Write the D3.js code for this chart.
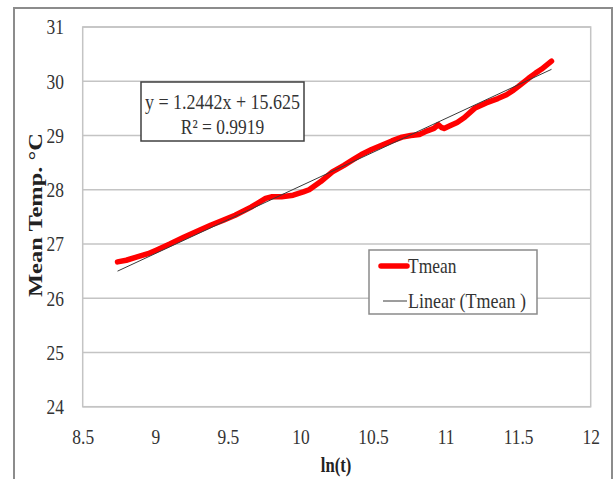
<!DOCTYPE html>
<html><head><meta charset="utf-8">
<script src="https://cdn.jsdelivr.net/npm/d3@7"></script>
<style>
body{margin:0;background:#fff;}
svg{display:block;font-family:"Liberation Serif","Times New Roman",serif;}
</style></head>
<body><svg id="c" width="614" height="479"></svg>
<script>
// ---- data ----
const lnT = [8.74, 8.8, 8.875, 8.95, 9.01, 9.1, 9.2, 9.3, 9.385, 9.47, 9.55, 9.66, 9.76, 9.8, 9.87, 9.95, 10.02, 10.06, 10.14, 10.22, 10.3, 10.36, 10.42, 10.49, 10.56, 10.63, 10.7, 10.76, 10.82, 10.86, 10.92, 10.95, 10.97, 10.99, 11.03, 11.08, 11.13, 11.2, 11.28, 11.36, 11.42, 11.46, 11.5, 11.57, 11.62, 11.66, 11.73];
const tmean = [26.67, 26.7, 26.76, 26.82, 26.89, 27.0, 27.13, 27.25, 27.35, 27.44, 27.53, 27.68, 27.84, 27.87, 27.87, 27.9, 27.96, 28.0, 28.15, 28.33, 28.45, 28.55, 28.65, 28.74, 28.82, 28.9, 28.97, 29.0, 29.02, 29.07, 29.13, 29.2, 29.15, 29.13, 29.18, 29.24, 29.33, 29.5, 29.6, 29.68, 29.75, 29.82, 29.9, 30.05, 30.15, 30.22, 30.37];
const trendSlope = 1.2442, trendIntercept = 15.625, trendR2 = "0.9919";
const xTicks = [8.5, 9, 9.5, 10, 10.5, 11, 11.5, 12];
const yTicks = [24, 25, 26, 27, 28, 29, 30, 31];
const seriesName = "Tmean";
const trendName = "Linear (Tmean )";
const xTitle = "ln(t)";
const yTitle = "Mean Temp. °C";

// ---- layout ----
const L = 82.7, R = 590.7, T = 27, B = 406.7;
const SX = 0.83; // horizontal squeeze of the text
const svg = d3.select("#c");
const x = d3.scaleLinear().domain([8.5, 12]).range([L, R]);
const y = d3.scaleLinear().domain([24, 31]).range([B, T]);

// outer frame
svg.append("rect").attr("x", 14).attr("y", 8).attr("width", 598).attr("height", 490)
  .attr("fill", "none").attr("stroke", "#8c8c8c").attr("stroke-width", 2);

// gridlines
svg.append("g").selectAll("line").data(yTicks).join("line")
  .attr("x1", L).attr("x2", R).attr("y1", d => y(d)).attr("y2", d => y(d))
  .attr("stroke", "#c4c4c4").attr("stroke-width", 1.5);
// plot border
svg.append("rect").attr("x", L).attr("y", T).attr("width", R - L).attr("height", B - T)
  .attr("fill", "none").attr("stroke", "#c4c4c4").attr("stroke-width", 1.5);

// axes
const yAxis = svg.append("g").attr("transform", `translate(${L},0)`)
  .call(d3.axisLeft(y).tickValues(yTicks).tickFormat(d3.format("d")).tickSize(0));
yAxis.select(".domain").remove();
yAxis.selectAll("text").attr("font-family", "Liberation Serif").attr("font-size", 21)
  .attr("fill", "#333").attr("x", -22.5).attr("dy", "0.33em").attr("transform", `scale(${SX},1)`);

const xAxis = svg.append("g").attr("transform", `translate(0,${B})`)
  .call(d3.axisBottom(x).tickValues(xTicks).tickFormat(d => String(d)).tickSize(0));
xAxis.select(".domain").remove();
xAxis.selectAll(".tick").each(function(d){
  d3.select(this).select("text").attr("font-family", "Liberation Serif").attr("font-size", 21)
    .attr("fill", "#333").attr("y", 37).attr("dy", 0).attr("transform", `scale(${SX},1)`);
});

// titles
svg.append("text").attr("transform", `translate(336,472) scale(${SX},1)`)
  .attr("text-anchor", "middle").attr("font-weight", "bold").attr("font-size", 20).attr("fill", "#222")
  .text(xTitle);
svg.append("text").attr("transform", `translate(42,215) scale(${SX},1) rotate(-90)`)
  .attr("text-anchor", "middle").attr("font-weight", "bold").attr("font-size", 22).attr("fill", "#222")
  .attr("textLength", 164).attr("lengthAdjust", "spacingAndGlyphs")
  .text(yTitle);

// data series
const pts = lnT.map((v, i) => [v, tmean[i]]);
const line = d3.line().x(d => x(d[0])).y(d => y(d[1]));
svg.append("path").datum(pts).attr("d", line).attr("fill", "none")
  .attr("stroke", "#ff0000").attr("stroke-width", 5.5).attr("stroke-linejoin", "round").attr("stroke-linecap", "round");

// linear trendline
const xExt = d3.extent(lnT);
const trendPts = xExt.map(v => [v, trendSlope * v + trendIntercept]);
svg.append("path").datum(trendPts).attr("d", line).attr("fill", "none")
  .attr("stroke", "#3a3a3a").attr("stroke-width", 1);

// equation box
svg.append("rect").attr("x", 141).attr("y", 82).attr("width", 163).attr("height", 59)
  .attr("fill", "#fff").attr("stroke", "#404040").attr("stroke-width", 1.5);
svg.append("text").attr("x", 222.5).attr("y", 109).attr("text-anchor", "middle")
  .attr("font-size", 21).attr("fill", "#333").attr("textLength", 155).attr("lengthAdjust", "spacingAndGlyphs")
  .text(`y = ${trendSlope}x + ${trendIntercept}`);
svg.append("text").attr("transform", `translate(222.5,134) scale(${SX},1)`).attr("text-anchor", "middle")
  .attr("font-size", 21).attr("fill", "#333")
  .text(`R² = ${trendR2}`);

// legend
const lg = svg.append("g");
lg.append("rect").attr("x", 369).attr("y", 250).attr("width", 168).attr("height", 64)
  .attr("fill", "#fff").attr("stroke", "#8a8a8a").attr("stroke-width", 1.5);
lg.append("line").attr("x1", 381).attr("x2", 407).attr("y1", 266).attr("y2", 266)
  .attr("stroke", "#ff0000").attr("stroke-width", 5.5).attr("stroke-linecap", "round");
lg.append("text").attr("transform", `translate(408,273) scale(${SX},1)`)
  .attr("font-size", 21).attr("fill", "#333").text(seriesName);
lg.append("line").attr("x1", 383).attr("x2", 407).attr("y1", 301).attr("y2", 301)
  .attr("stroke", "#3a3a3a").attr("stroke-width", 1);
lg.append("text").attr("x", 408).attr("y", 308)
  .attr("font-size", 21).attr("fill", "#333").attr("textLength", 118).attr("lengthAdjust", "spacingAndGlyphs")
  .text(trendName);
</script></body></html>
